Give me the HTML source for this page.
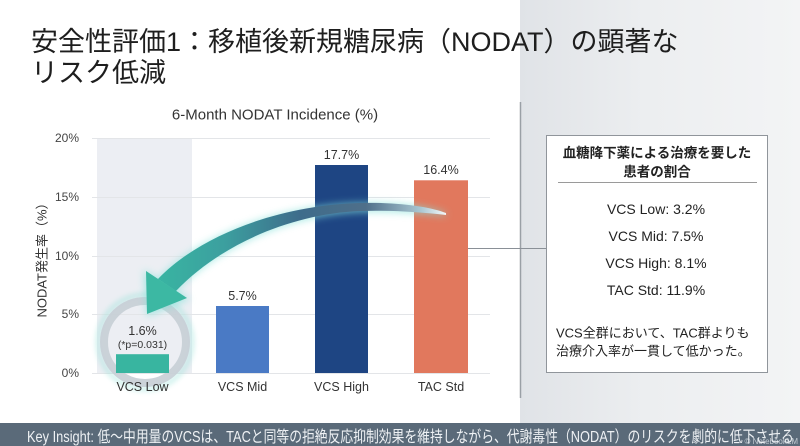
<!DOCTYPE html>
<html><head><meta charset="utf-8">
<style>
html,body{margin:0;padding:0;}
body{width:800px;height:446px;overflow:hidden;position:relative;background:#fff;font-family:"Liberation Sans","Noto Sans CJK JP",sans-serif;}
.panel{position:absolute;left:520px;top:0;width:280px;height:424px;background:linear-gradient(to right,#e0e3e7 0%,#eceef0 45%,#f3f4f5 100%);}
.title{position:absolute;left:31px;top:27px;font-size:27px;line-height:30.5px;color:#1e1e1e;white-space:nowrap;}
.banner{position:absolute;left:0;top:423px;width:800px;height:23px;background:#5a6a79;overflow:hidden;}
.btext{position:absolute;left:27px;top:6px;font-size:16px;line-height:18px;color:#eef1f4;white-space:nowrap;transform:scaleX(0.8);transform-origin:0 0;}
.wm{position:absolute;right:2px;bottom:0px;font-size:8px;color:rgba(230,235,240,0.75);}
svg{position:absolute;left:0;top:0;}
</style></head>
<body>
<div class="panel"></div>
<div class="title">安全性評価1：移植後新規糖尿病（NODAT）の顕著な<br>リスク低減</div>

<svg width="800" height="446" viewBox="0 0 800 446" xmlns="http://www.w3.org/2000/svg">
  <defs>
    <linearGradient id="shaft" gradientUnits="userSpaceOnUse" x1="150" y1="0" x2="450" y2="0">
      <stop offset="0" stop-color="#38b7a2"/>
      <stop offset="0.25" stop-color="#3c9f9f"/>
      <stop offset="0.5" stop-color="#3e6c8b"/>
      <stop offset="0.72" stop-color="#4f6f8a"/>
      <stop offset="0.9" stop-color="#a8c6d1"/>
      <stop offset="1" stop-color="#ffffff"/>
    </linearGradient>
    <filter id="blur4" x="-20%" y="-20%" width="140%" height="140%"><feGaussianBlur stdDeviation="4"/></filter>
    <filter id="blur2" x="-20%" y="-20%" width="140%" height="140%"><feGaussianBlur stdDeviation="2.5"/></filter>
  </defs>

  <rect x="97" y="138" width="95" height="235" fill="#eceef3"/>

  <g stroke="#e3e5e8" stroke-width="1">
    <line x1="92" y1="138.5" x2="490" y2="138.5"/>
    <line x1="92" y1="197.5" x2="490" y2="197.5"/>
    <line x1="92" y1="256.5" x2="490" y2="256.5"/>
    <line x1="92" y1="314.5" x2="490" y2="314.5"/>
    <line x1="92" y1="373.5" x2="490" y2="373.5"/>
  </g>

  <text x="275" y="115" font-size="15" fill="#333" text-anchor="middle" dominant-baseline="central">6-Month NODAT Incidence (%)</text>

  <g font-size="12" fill="#444" text-anchor="end" dominant-baseline="central">
    <text x="79" y="138">20%</text>
    <text x="79" y="197">15%</text>
    <text x="79" y="256">10%</text>
    <text x="79" y="314">5%</text>
    <text x="79" y="373">0%</text>
  </g>
  <text transform="translate(42,257) rotate(-90)" font-size="13" fill="#333" text-anchor="middle" dominant-baseline="central">NODAT発生率（%）</text>

  <circle cx="145" cy="342" r="47" fill="none" stroke="#8fe0d6" stroke-width="6" opacity="0.35" filter="url(#blur2)"/>
  <circle cx="145" cy="342" r="41" fill="none" stroke="#c6ced5" stroke-width="8" opacity="0.9"/>

  <rect x="116" y="354.2" width="53" height="18.8" fill="#38b5a0"/>
  <rect x="216" y="306" width="53" height="67" fill="#4a7ac5"/>
  <rect x="315" y="165" width="53" height="208" fill="#1e4583"/>
  <rect x="414" y="180.3" width="54" height="192.7" fill="#e1785d"/>

  <g font-size="12.5" fill="#333" text-anchor="middle" dominant-baseline="central">
    <text x="142.5" y="331">1.6%</text>
    <text x="242.5" y="296">5.7%</text>
    <text x="341.5" y="155">17.7%</text>
    <text x="441" y="170">16.4%</text>
  </g>
  <text x="142.5" y="345" font-size="10.5" fill="#333" text-anchor="middle" dominant-baseline="central">(*p=0.031)</text>

  <g font-size="12.5" fill="#333" text-anchor="middle" dominant-baseline="central">
    <text x="142.5" y="387">VCS Low</text>
    <text x="242.5" y="387">VCS Mid</text>
    <text x="341.5" y="387">VCS High</text>
    <text x="441" y="387">TAC Std</text>
  </g>

  <path d="M158,279 C200,235 280,205 360,203 C400,202 430,207 446,213 L446,216 C420,213 390,211 360,212 C290,215 220,246 176,291 Z" fill="#86e2da" opacity="0.7" filter="url(#blur4)"/>
  <path d="M147,316 L144,270 L190,299 Z" fill="#86e2da" opacity="0.7" filter="url(#blur4)"/>
  <path d="M158,279 C200,235 280,205 360,203 C400,202 430,207 446,213 L446,215 C420,212 390,210 360,211 C290,214 220,245 176,291 Z" fill="url(#shaft)"/>
  <path d="M147,314 L146,271 L187,298 Z" fill="#3cb8a3"/>

  <line x1="520.5" y1="102" x2="520.5" y2="398" stroke="#9aa0a6" stroke-width="1.5"/>
  <line x1="468" y1="248.5" x2="546" y2="248.5" stroke="#8a9097" stroke-width="1"/>

  <rect x="546.5" y="135.5" width="221" height="237" fill="#ffffff" stroke="#90959b" stroke-width="1"/>
  <g font-size="13.5" font-weight="bold" fill="#222" text-anchor="middle" dominant-baseline="central">
    <text x="657" y="153">血糖降下薬による治療を要した</text>
    <text x="657" y="172">患者の割合</text>
  </g>
  <line x1="558" y1="182.5" x2="757" y2="182.5" stroke="#9a9a9a" stroke-width="1"/>
  <g font-size="14" fill="#222" text-anchor="middle" dominant-baseline="central">
    <text x="656" y="209">VCS Low: 3.2%</text>
    <text x="656" y="236">VCS Mid: 7.5%</text>
    <text x="656" y="263">VCS High: 8.1%</text>
    <text x="656" y="290">TAC Std: 11.9%</text>
  </g>
  <g font-size="13" fill="#222" dominant-baseline="central">
    <text x="556" y="333">VCS全群において、TAC群よりも</text>
    <text x="556" y="351">治療介入率が一貫して低かった。</text>
  </g>
</svg>

<div class="banner">
  <div class="btext">Key Insight: 低～中用量のVCSは、TACと同等の拒絶反応抑制効果を維持しながら、代謝毒性（NODAT）のリスクを劇的に低下させる</div>
  <div class="wm">© NotebookLM</div>
</div>
</body></html>
